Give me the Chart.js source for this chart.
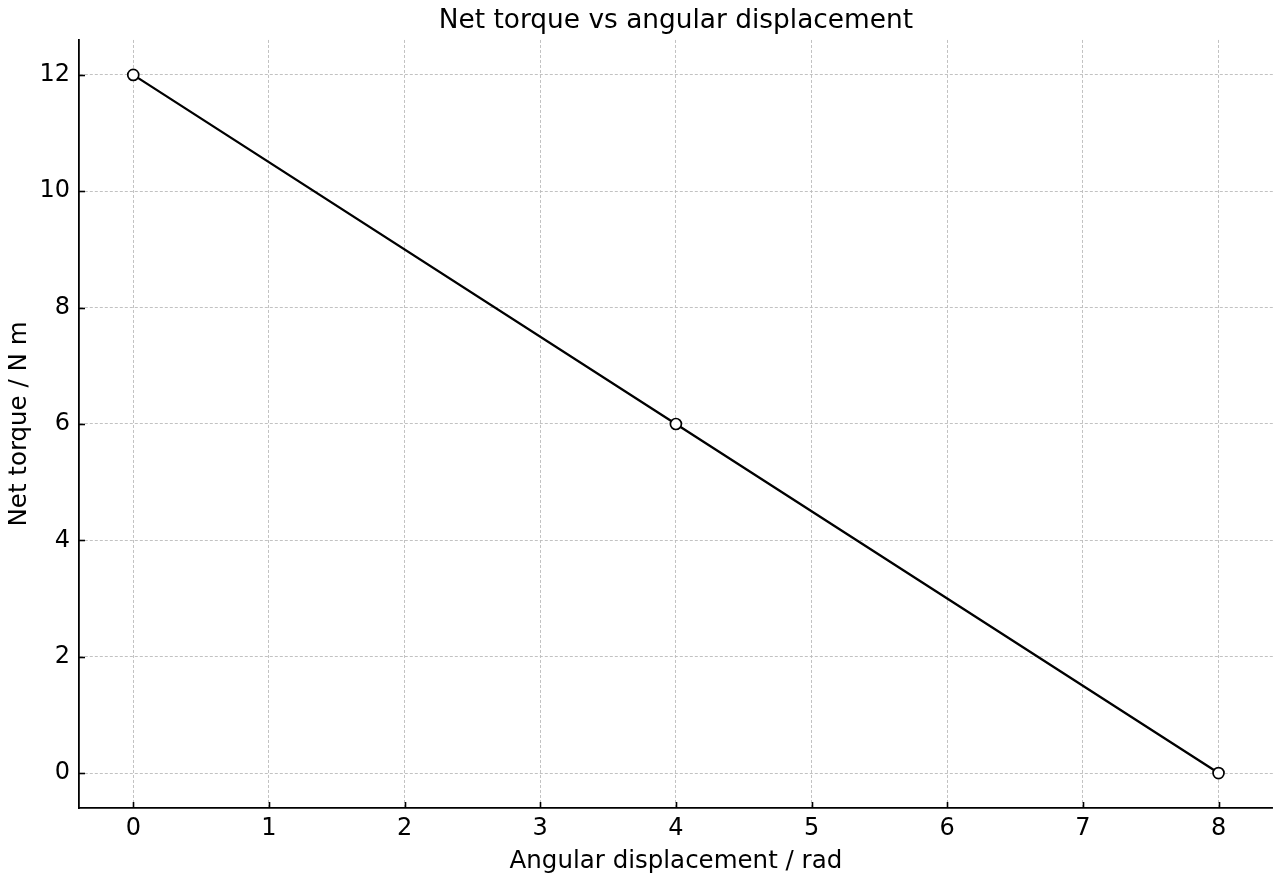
<!DOCTYPE html>
<html>
<head>
<meta charset="utf-8">
<script src="https://cdn.jsdelivr.net/npm/chart.js@4/dist/chart.umd.min.js"></script>
<style>
html,body{margin:0;padding:0;background:#fff;}
#wrap{width:1280px;height:880px;}
</style>
</head>
<body>
<div id="wrap"><canvas id="c" width="1280" height="880"></canvas></div>
<script>
const angle = [0, 4, 8];
const torque = [12, 6, 0];
const xTicks = [0, 1, 2, 3, 4, 5, 6, 7, 8];
const yTicks = [0, 2, 4, 6, 8, 10, 12];
const chartTitle = 'Net torque vs angular displacement';
const xLabel = 'Angular displacement / rad';
const yLabel = 'Net torque / N m';

const FONT = "'DejaVu Sans', sans-serif";

const inwardTicks = {
  id: 'inwardTicks',
  afterDraw(chart) {
    const ctx = chart.ctx;
    const xs = chart.scales.x, ys = chart.scales.y;
    const a = chart.chartArea;
    ctx.save();
    ctx.strokeStyle = '#000';
    ctx.lineWidth = 1.6;
    xTicks.forEach(v => {
      const px = Math.round(xs.getPixelForValue(v)) + 0.5;
      ctx.beginPath(); ctx.moveTo(px, a.bottom); ctx.lineTo(px, a.bottom - 6); ctx.stroke();
    });
    yTicks.forEach(v => {
      const py = Math.round(ys.getPixelForValue(v)) + 0.5;
      ctx.beginPath(); ctx.moveTo(a.left, py); ctx.lineTo(a.left + 6, py); ctx.stroke();
    });
    ctx.restore();
  }
};

new Chart(document.getElementById('c'), {
  type: 'scatter',
  data: {
    datasets: [{
      data: angle.map((x, i) => ({x: x, y: torque[i]})),
      showLine: true,
      borderColor: '#000',
      borderWidth: 2.3,
      pointRadius: 5.5,
      pointHoverRadius: 5.5,
      pointBackgroundColor: '#fff',
      pointBorderColor: '#000',
      pointBorderWidth: 1.7,
      tension: 0
    }]
  },
  options: {
    responsive: false,
    animation: false,
    layout: { padding: { left: 0, right: 7, top: 0, bottom: 0 } },
    plugins: {
      legend: { display: false },
      tooltip: { enabled: false },
      title: {
        display: true,
        fullSize: false,
        text: chartTitle,
        color: '#000',
        font: { family: FONT, size: 26.4, weight: 'normal' },
        padding: { top: 5, bottom: 3.3 }
      }
    },
    scales: {
      x: {
        type: 'linear',
        min: -0.4, max: 8.4,
        afterBuildTicks: s => { s.ticks = xTicks.map(v => ({value: v})); },
        afterFit: s => { s.height = 72; },
        grid: { color: '#bbbbbb', lineWidth: 0.9, drawTicks: false },
        border: { display: true, color: '#000', width: 1.8, dash: [3, 2] },
        ticks: { color: '#000', font: { family: FONT, size: 24 }, padding: 6, maxRotation: 0 },
        title: { display: true, text: xLabel, color: '#000', font: { family: FONT, size: 24.5 }, padding: { top: 4, bottom: 4 } }
      },
      y: {
        type: 'linear',
        min: -0.6, max: 12.6,
        afterBuildTicks: s => { s.ticks = yTicks.map(v => ({value: v})); },
        afterFit: s => { s.width = 79; },
        grid: { color: '#bbbbbb', lineWidth: 0.9, drawTicks: false },
        border: { display: true, color: '#000', width: 1.8, dash: [3, 2] },
        ticks: { color: '#000', font: { family: FONT, size: 24 }, padding: 9 },
        title: { display: true, text: yLabel, color: '#000', font: { family: FONT, size: 24.5 }, padding: { top: 5, bottom: 2 } }
      }
    }
  },
  plugins: [inwardTicks]
});
</script>
</body>
</html>
